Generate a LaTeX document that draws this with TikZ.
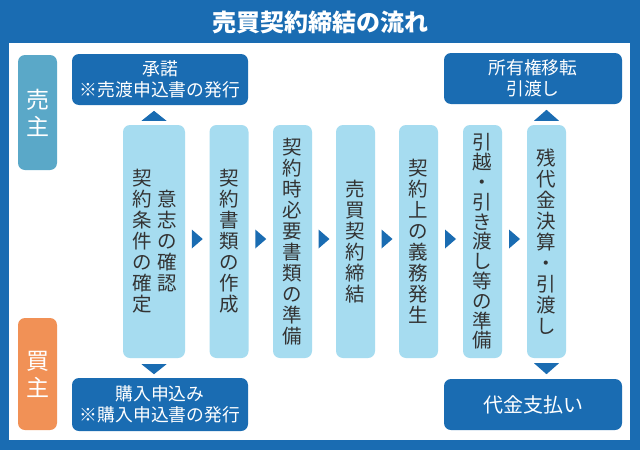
\documentclass[tikz,border=0pt]{standalone}
\usepackage{fontspec}
\setmainfont{Noto Sans CJK JP}
\usetikzlibrary{calc}
\definecolor{dblue}{HTML}{1A6CB2}
\definecolor{lblue}{HTML}{A6DCF0}
\definecolor{sblue}{HTML}{5AA8C8}
\definecolor{orng}{HTML}{F19156}
\definecolor{tgray}{HTML}{333333}
\begin{document}
\begin{tikzpicture}[x=1pt,y=-1pt,
  lbox/.style={fill=lblue, rounded corners=7pt, minimum width=39pt, minimum height=233pt, inner sep=0pt,
    text=tgray, align=center, font=\fontsize{19.5}{21}\selectfont},
  vcol/.style={text=tgray, align=center, font=\fontsize{19.5}{21}\selectfont, inner sep=0pt},
  dbox/.style={fill=dblue, rounded corners=7pt, minimum width=177pt, minimum height=51pt, inner sep=0pt,
    text=white, align=center, font=\fontsize{17.8}{21}\selectfont},
  sidebox/.style={rounded corners=7pt, minimum width=39pt, inner sep=0pt, text=white, align=center,
    font=\fontsize{23}{27}\selectfont},
  tri/.style={fill=dblue}]
\useasboundingbox (0,0) rectangle (640,450);
\fill[dblue] (0,0) rectangle (640,450);
\fill[white] (9,43) rectangle (630,440);
\node[text=white, font=\fontsize{24}{24}\selectfont\bfseries] (title) at (320,22.5) {売買契約締結の流れ};

% side labels
\node[sidebox, fill=sblue, minimum height=115pt] (seller) at (37.5,112.5) {売\\主};
\node[sidebox, fill=orng, minimum height=112pt] (buyer) at (37.5,374) {買\\主};

% dark boxes
\node[dbox, minimum width=176pt] (d1) at (160,79.5) {承諾\\※売渡申込書の発行};
\node[dbox, minimum width=178pt] (d2) at (533,78.5) {所有権移転\\引渡し};
\node[dbox, minimum width=176pt, minimum height=53pt] (d3) at (160,404.5) {購入申込み\\※購入申込書の発行};
\node[dbox, minimum width=178pt, font=\fontsize{20}{21}\selectfont] (d4) at (533,404.5) {代金支払い};

% light step boxes
\node[lbox, minimum width=62pt] (b1) at (154,241.5) {};
\node[vcol] (b1r) at (167.5,241.5) {意\\志\\の\\確\\認};
\node[vcol] (b1l) at (142.5,241.5) {契\\約\\条\\件\\の\\確\\定};
\node[lbox] (b2) at (229,241.5) {契\\約\\書\\類\\の\\作\\成};
\node[lbox] (b3) at (292.5,241.5) {契\\約\\時\\必\\要\\書\\類\\の\\準\\備};
\node[lbox] (b4) at (355.5,241.5) {売\\買\\契\\約\\締\\結};
\node[lbox] (b5) at (418.5,241.5) {契\\約\\上\\の\\義\\務\\発\\生};
\node[lbox, font=\fontsize{19.5}{19.8}\selectfont] (b6) at (482.5,241.5) {引\\越\\・\\引\\き\\渡\\し\\等\\の\\準\\備};
\node[lbox] (b7) at (546.5,241.5) {残\\代\\金\\決\\算\\・\\引\\渡\\し};

% right-pointing triangles between steps
\foreach \a/\b in {b1/b2,b2/b3,b3/b4,b4/b5,b5/b6,b6/b7}{
  \path (\a.east) -- (\b.west) coordinate[midway] (m\a);
  \fill[tri] ([xshift=-5.5pt,yshift=12pt]m\a) -- ([xshift=5.5pt,yshift=2.5pt]m\a) -- ([xshift=-5.5pt,yshift=-7pt]m\a) -- cycle;
}

% up / down triangles
\fill[tri] ([xshift=-12.5pt,yshift=4pt]b1.north) -- ([yshift=14pt]b1.north) -- ([xshift=12.5pt,yshift=4pt]b1.north) -- cycle;
\fill[tri] ([xshift=-12.5pt,yshift=-6pt]b1.south) -- ([yshift=-16pt]b1.south) -- ([xshift=12.5pt,yshift=-6pt]b1.south) -- cycle;
\fill[tri] ([xshift=-12.5pt,yshift=4pt]b7.north) -- ([yshift=15pt]b7.north) -- ([xshift=12.5pt,yshift=4pt]b7.north) -- cycle;
\fill[tri] ([xshift=-12.5pt,yshift=-5pt]b7.south) -- ([yshift=-16pt]b7.south) -- ([xshift=12.5pt,yshift=-5pt]b7.south) -- cycle;
\end{tikzpicture}
\end{document}
